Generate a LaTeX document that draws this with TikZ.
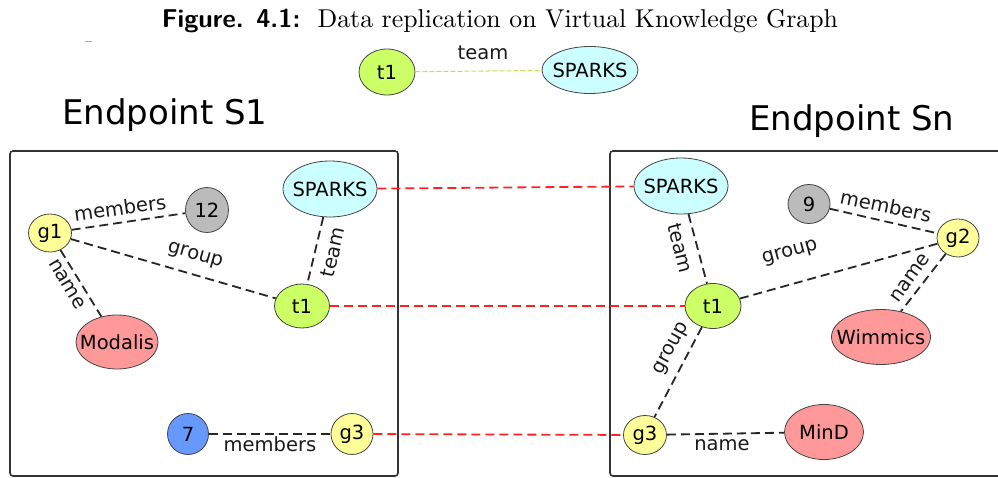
\documentclass[tikz,border=0pt]{standalone}
\usepackage{fontspec}
\usepackage{graphicx}
\usetikzlibrary{shapes.geometric}
\newfontfamily\dv{DejaVu Sans}
\newcommand{\zw}[1]{\makebox[0pt]{#1}}
\definecolor{tgreen}{HTML}{CCFF66}
\definecolor{scyan}{HTML}{CCFFFF}
\definecolor{ggray}{HTML}{BBBBBB}
\definecolor{gyellow}{HTML}{FFFF99}
\definecolor{npink}{HTML}{FF9999}
\definecolor{nblue}{HTML}{6699FF}
\definecolor{rdash}{HTML}{FF2222}
\definecolor{tdash}{HTML}{C8DC5A}
\definecolor{bord}{HTML}{444444}
\tikzset{
  gnode/.style={ellipse, draw=bord, line width=0.8pt, inner sep=0pt,
    font=\dv\fontsize{19.5}{20}\selectfont, text=black},
  edge/.style={draw=black!85, line width=1.8pt, dash pattern=on 9pt off 5pt},
  redge/.style={draw=rdash, line width=1.8pt, dash pattern=on 9pt off 5pt},
  lbl/.style={font=\dv\fontsize{19.5}{20}\selectfont, text=black!90, inner sep=0pt},
  ebox/.style={draw=black!80, line width=1.6pt, rounded corners=3pt},
  eplabel/.style={font=\dv\fontsize{34}{36}\selectfont, inner sep=0pt}
}
\begin{document}
\begin{tikzpicture}[x=1pt,y=-1pt]
\useasboundingbox (0,0) rectangle (998,478);
% caption
\node (cap) [anchor=base, inner sep=0pt] at (500,28)
  {\resizebox{676pt}{!}{{\sffamily\bfseries Figure. 4.1:}\ \ Data replication on Virtual Knowledge Graph}};
\draw[gray!70, line width=0.8pt] (85,41) -- (92,41);
% top pair
\node[gnode, fill=tgreen, minimum width=56pt, minimum height=46pt] (tt1) at (387,72) {\zw{t1}};
\node[gnode, fill=scyan, minimum width=96pt, minimum height=47pt] (tsp) at (590,70) {\zw{SPARKS}};
\draw[tdash, line width=1pt, dash pattern=on 5pt off 2pt] (tt1) -- (tsp);
\node[lbl] (tteam) at (483,53) {team};
% endpoint labels
\node[eplabel, anchor=base west] (ep1) at (62,125) {Endpoint S1};
\node[eplabel, anchor=base west] (epn) at (749,131) {Endpoint Sn};
% boxes
\draw[ebox] (10,151) rectangle (398,476);
\draw[ebox] (610,151) rectangle (1010,476);
% left nodes
\node[gnode, fill=scyan, minimum width=94pt, minimum height=56pt] (lsp) at (330,189) {\zw{SPARKS}};
\node[gnode, fill=gyellow, minimum width=43pt, minimum height=38pt] (g1) at (50,233) {\zw{g1}};
\node[gnode, fill=ggray, minimum width=43pt, minimum height=45pt] (n12) at (207,210) {\zw{12}};
\node[gnode, fill=tgreen, minimum width=55pt, minimum height=44pt] (lt1) at (302,306) {\zw{t1}};
\node[gnode, fill=npink, minimum width=82pt, minimum height=54pt] (mod) at (117,342) {\zw{Modalis}};
\node[gnode, fill=nblue, minimum width=41pt, minimum height=41pt] (n7) at (188,434) {\zw{7}};
\node[gnode, fill=gyellow, minimum width=42pt, minimum height=41pt] (lg3) at (352,434) {\zw{g3}};
% right nodes
\node[gnode, fill=scyan, minimum width=94pt, minimum height=56pt] (rsp) at (681,186) {\zw{SPARKS}};
\node[gnode, fill=ggray, minimum width=42pt, minimum height=39pt] (n9) at (809,204) {\zw{9}};
\node[gnode, fill=gyellow, minimum width=42pt, minimum height=38pt] (g2) at (958,238) {\zw{g2}};
\node[gnode, fill=tgreen, minimum width=56pt, minimum height=45pt] (rt1) at (713,306) {\zw{t1}};
\node[gnode, fill=npink, minimum width=99pt, minimum height=55pt] (wim) at (881,337) {\zw{Wimmics}};
\node[gnode, fill=gyellow, minimum width=43pt, minimum height=39pt] (rg3) at (645,435) {\zw{g3}};
\node[gnode, fill=npink, minimum width=79pt, minimum height=55pt] (mind) at (824,432) {\zw{MinD}};
% left edges
\draw[edge] (g1) -- (n12);
\draw[edge] (g1) -- (lt1);
\draw[edge] (g1) -- (mod);
\draw[edge] (lsp) -- (lt1);
\draw[edge] (n7) -- (lg3);
% right edges
\draw[edge] (rsp) -- (rt1);
\draw[edge] (n9) -- (g2);
\draw[edge] (rt1) -- (g2);
\draw[edge] (g2) -- (wim);
\draw[edge] (rt1) -- (rg3);
\draw[edge] (rg3) -- (mind);
% red links
\draw[redge] (lsp) -- (rsp);
\draw[redge] (lt1) -- (rt1);
\draw[redge] (lg3) -- (rg3);
% labels
\node[lbl, rotate=8] (l1) at (120,208) {members};
\node[lbl, rotate=-16] (l2) at (195,256) {group};
\node[lbl, rotate=-59] (l3) at (67,284) {name};
\node[lbl, rotate=77] (l4) at (333,252) {team};
\node[lbl] (l5) at (270,444) {members};
\node[lbl, rotate=-76] (l6) at (680,248) {team};
\node[lbl, rotate=-12] (l7) at (886,206) {members};
\node[lbl, rotate=15] (l8) at (790,253) {group};
\node[lbl, rotate=54] (l9) at (910,278) {name};
\node[lbl, rotate=61] (l10) at (672,349) {group};
\node[lbl] (l11) at (722,445) {name};
\end{tikzpicture}
\end{document}
